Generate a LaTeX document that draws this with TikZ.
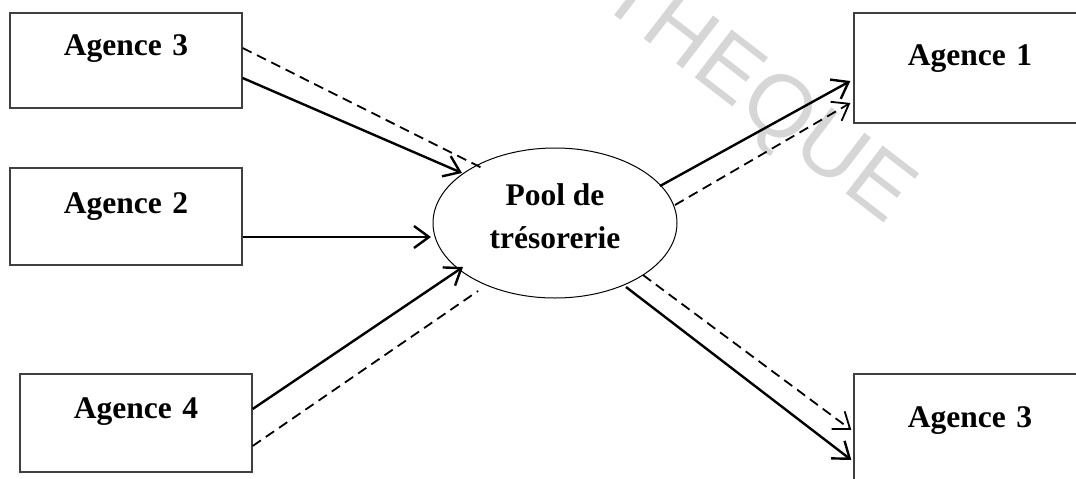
\documentclass[tikz,border=0pt]{standalone}
\usepackage{fontspec}
\setmainfont{Liberation Serif}
\newfontfamily\wmfont{Liberation Sans}
\usetikzlibrary{arrows.meta,shapes.geometric}

\begin{document}
\begin{tikzpicture}[x=1pt,y=-1pt,
  labelfont/.style={font=\fontsize{31.5}{43}\selectfont\bfseries},
  agency/.style={draw=black!75, line width=1.3pt, rectangle, inner sep=0pt,
                 text width=232pt, align=center, labelfont},
  poolshape/.style={draw, ellipse, line width=1pt, minimum width=244pt,
                    minimum height=150pt, inner sep=0pt},
  tip/.style={-{Straight Barb[length=15pt,width=22pt]}},
  solidline/.style={line width=2.4pt},
  dashline/.style={line width=1.8pt, dash pattern=on 10pt off 6pt},
  flow/.style={solidline, tip},
  dashflow/.style={dashline, tip}
]
\useasboundingbox (0,0) rectangle (1076,479);
\clip (0,0) rectangle (1076,479);

% faint watermark behind the drawing
\node[font=\wmfont\fontsize{88}{88}\selectfont, text=black!16, rotate=-37.6]
  (wm) at (755,96) {THEQUE};

% agencies
\node[agency, text height=42pt, text depth=53pt] (a3l) at (126,60.5) {Agence 3};
\node[agency, text height=45pt, text depth=52pt] (a2)  at (126,216.5) {Agence 2};
\node[agency, text height=44pt, text depth=54pt] (a4)  at (136,423) {Agence 4};
\node[agency, text height=52pt, text depth=58pt] (a1)  at (970,68) {Agence 1};
\node[agency, text height=53pt, text depth=59pt] (a3r) at (970,430) {Agence 3};

% cash pool
\node[poolshape] (pool) at (555,223) {};
\node[labelfont, align=center, inner sep=0pt] (pooltext) at ([yshift=7pt]pool.center)
  {Pool de\\trésorerie};

% flows into the pool
\draw[flow] ([yshift=-17.5pt]a3l.east) -- ([shift={(-93,-50)}]pool.center);
\draw[dashline] ([yshift=12.5pt]a3l.east) -- ([shift={(-73,-55)}]pool.center);
\draw[flow] ([yshift=-20.5pt]a2.east) -- ([shift={(-124,14)}]pool.center);
\draw[flow] ([yshift=14pt]a4.east) -- ([shift={(-92,44)}]pool.center);
\draw[dashline] ([yshift=-23pt]a4.east) -- ([shift={(-77,68)}]pool.center);

% flows out of the pool
\draw[flow] ([shift={(105,-37)}]pool.center) -- ([shift={(-3,13)}]a1.west);
\draw[dashflow] ([shift={(120,-18)}]pool.center) -- ([shift={(-3,35)}]a1.west);
\draw[dashflow] ([shift={(88,52)}]pool.center) -- ([shift={(-2,0)}]a3r.west);
\draw[flow] ([shift={(71,64)}]pool.center) -- ([shift={(-2,30)}]a3r.west);
\end{tikzpicture}
\end{document}
